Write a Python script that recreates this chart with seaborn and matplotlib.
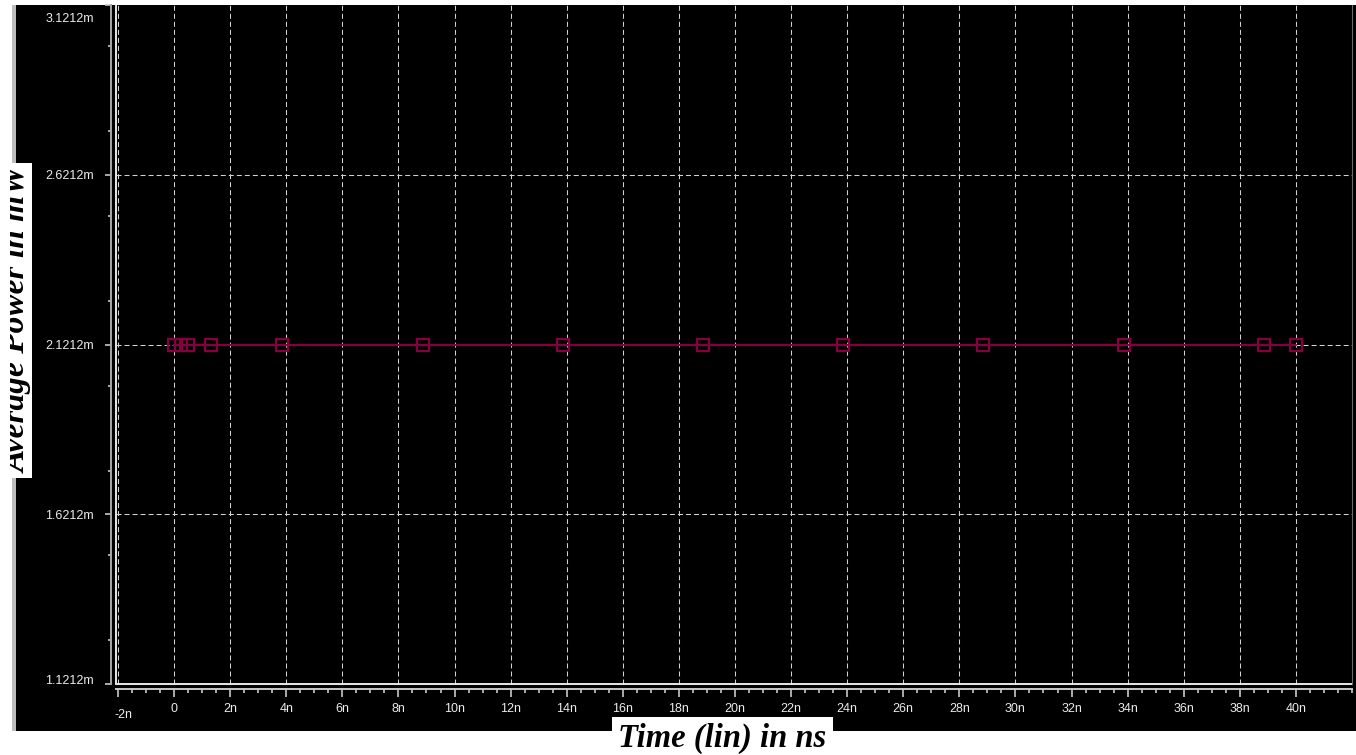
import matplotlib
matplotlib.use("Agg")
import matplotlib.pyplot as plt
import matplotlib.transforms as mtransforms
from matplotlib.patches import Rectangle
from matplotlib.ticker import FixedLocator, MultipleLocator
import pandas as pd
import seaborn as sns

# ---------------- data ----------------
time_ns = [0.0, 0.25, 0.5, 1.3, 3.86, 8.86, 13.86, 18.86, 23.86, 28.86, 33.86, 38.86, 40.0]
avg_power_mw = [2.1212, 2.1212, 2.1212, 2.1212, 2.1212, 2.1212, 2.1212,
                2.1212, 2.1212, 2.1212, 2.1212, 2.1212, 2.1212]
x_ticks = [-2, 0, 2, 4, 6, 8, 10, 12, 14, 16, 18, 20, 22, 24, 26, 28, 30, 32, 34, 36, 38, 40]
x_tick_labels = ["-2n", "0", "2n", "4n", "6n", "8n", "10n", "12n", "14n", "16n", "18n",
                 "20n", "22n", "24n", "26n", "28n", "30n", "32n", "34n", "36n", "38n", "40n"]
y_ticks = [1.1212, 1.6212, 2.1212, 2.6212, 3.1212]
y_tick_labels = ["1.1212m", "1.6212m", "2.1212m", "2.6212m", "3.1212m"]
x_label = "Time (lin) in ns"
y_label = "Average Power in mW"

df = pd.DataFrame({"t": time_ns, "p": avg_power_mw})

sns.set_style("dark")
plt.rcParams["font.family"] = ["Liberation Sans", "DejaVu Sans"]

W, H = 1356, 755
fig = plt.figure(figsize=(W / 100, H / 100), dpi=100)
fig.patch.set_facecolor("white")


def fx(px):
    return px / W


def fy(py):
    return 1 - py / H


# black window panel + grey left strip (behind the axes)
fig.patches.append(Rectangle((fx(16), fy(731)), fx(1356) - fx(16), fy(5) - fy(731),
                             transform=fig.transFigure, facecolor="black",
                             edgecolor="none", zorder=-10))
fig.patches.append(Rectangle((fx(12), fy(731)), fx(4), fy(5) - fy(731),
                             transform=fig.transFigure, facecolor="#bdbdbd",
                             edgecolor="none", zorder=-10))

ax = fig.add_axes([fx(116), fy(684), fx(1352) - fx(116), fy(5) - fy(684)])
ax.set_zorder(1)
ax.set_facecolor("black")

line_color = "#85003f"
sns.lineplot(data=df, x="t", y="p", ax=ax, color=line_color, linewidth=1.6,
             marker="s", markersize=8.6, markerfacecolor="none",
             markeredgecolor=line_color, markeredgewidth=1.6, zorder=5)

ax.set_xlim(-2.071, 42.0)
ax.set_ylim(1.1212, 3.1212)

ax.xaxis.set_major_locator(FixedLocator(x_ticks))
ax.set_xticklabels(x_tick_labels)
ax.xaxis.set_minor_locator(MultipleLocator(0.5))
ax.yaxis.set_major_locator(FixedLocator(y_ticks))
ax.set_yticklabels(y_tick_labels)
ax.yaxis.set_minor_locator(MultipleLocator(0.25))

ax.set_xlabel("")
ax.set_ylabel("")

# grid
ax.grid(True, which="major", color="#d2d2d2", linewidth=0.75,
        linestyle=(0, (4.8, 2.9)), zorder=1)
ax.grid(False, which="minor")
ax.set_axisbelow(True)

# spines
ax.spines["top"].set_visible(False)
ax.spines["right"].set_color("#6a6a6a")
ax.spines["right"].set_linewidth(0.8)
ax.spines["left"].set_position(("outward", 3.6))
ax.spines["left"].set_color("#a8a8a8")
ax.spines["left"].set_linewidth(1.4)
ax.spines["bottom"].set_position(("outward", 3.6))
ax.spines["bottom"].set_color("#c8c8c8")
ax.spines["bottom"].set_linewidth(1.4)

# inner frame lines
ax.axvline(ax.get_xlim()[0], color="#e8e8e8", linewidth=1.4, clip_on=False, zorder=2)
ax.axhline(ax.get_ylim()[0], color="#e8e8e8", linewidth=1.4, clip_on=False, zorder=2)

ax.tick_params(axis="x", which="major", direction="out", length=5.8, width=1.2,
               color="#c8c8c8", labelcolor="#ececec", labelsize=9, pad=4,
               bottom=True)
ax.tick_params(axis="x", which="minor", direction="out", length=2.9, width=1.2,
               color="#c8c8c8", bottom=True)
ax.tick_params(axis="y", which="major", direction="out", length=4.3, width=1.2,
               color="#c8c8c8", labelcolor="#ececec", labelsize=9, pad=8, left=True)
ax.tick_params(axis="y", which="minor", direction="out", length=2.2, width=1.2,
               color="#c8c8c8", left=True)


def shift(label, dx_px, dy_px):
    label.set_transform(label.get_transform() +
                        mtransforms.ScaledTranslation(dx_px / 100, dy_px / 100,
                                                      fig.dpi_scale_trans))


# shift the "-2n" label slightly right / down
shift(ax.xaxis.get_major_ticks()[0].label1, 6, -6)

# top / bottom y labels kept inside the window; no top gridline
yticks_objs = ax.yaxis.get_major_ticks()
shift(yticks_objs[-1].label1, 0, -12)
shift(yticks_objs[0].label1, 0, 4)
yticks_objs[-1].gridline.set_visible(False)
yticks_objs[0].gridline.set_visible(False)

# y label in white box (clipped)
ybox = Rectangle((fx(10), fy(478)), fx(32) - fx(10), fy(163) - fy(478),
                 transform=fig.transFigure, facecolor="white", edgecolor="none", zorder=3)
fig.patches.append(ybox)
yt = fig.text(fx(26), fy(320), y_label, rotation=90, rotation_mode="anchor",
              ha="center", va="baseline", fontsize=24, fontweight="bold",
              fontstyle="italic", family=["Liberation Serif", "DejaVu Serif"],
              color="black", zorder=4)
yt.set_clip_path(ybox)

# x label in white box
xbox = Rectangle((fx(612), fy(755)), fx(833) - fx(612), fy(717) - fy(755),
                 transform=fig.transFigure, facecolor="white", edgecolor="none", zorder=3)
fig.patches.append(xbox)
xt = fig.text(fx(722), fy(747), x_label, ha="center", va="baseline", fontsize=23.5,
              fontweight="bold", fontstyle="italic",
              family=["Liberation Serif", "DejaVu Serif"], color="black", zorder=4)
xt.set_clip_path(xbox)

fig.savefig("out.png", dpi=100, facecolor=fig.get_facecolor())
